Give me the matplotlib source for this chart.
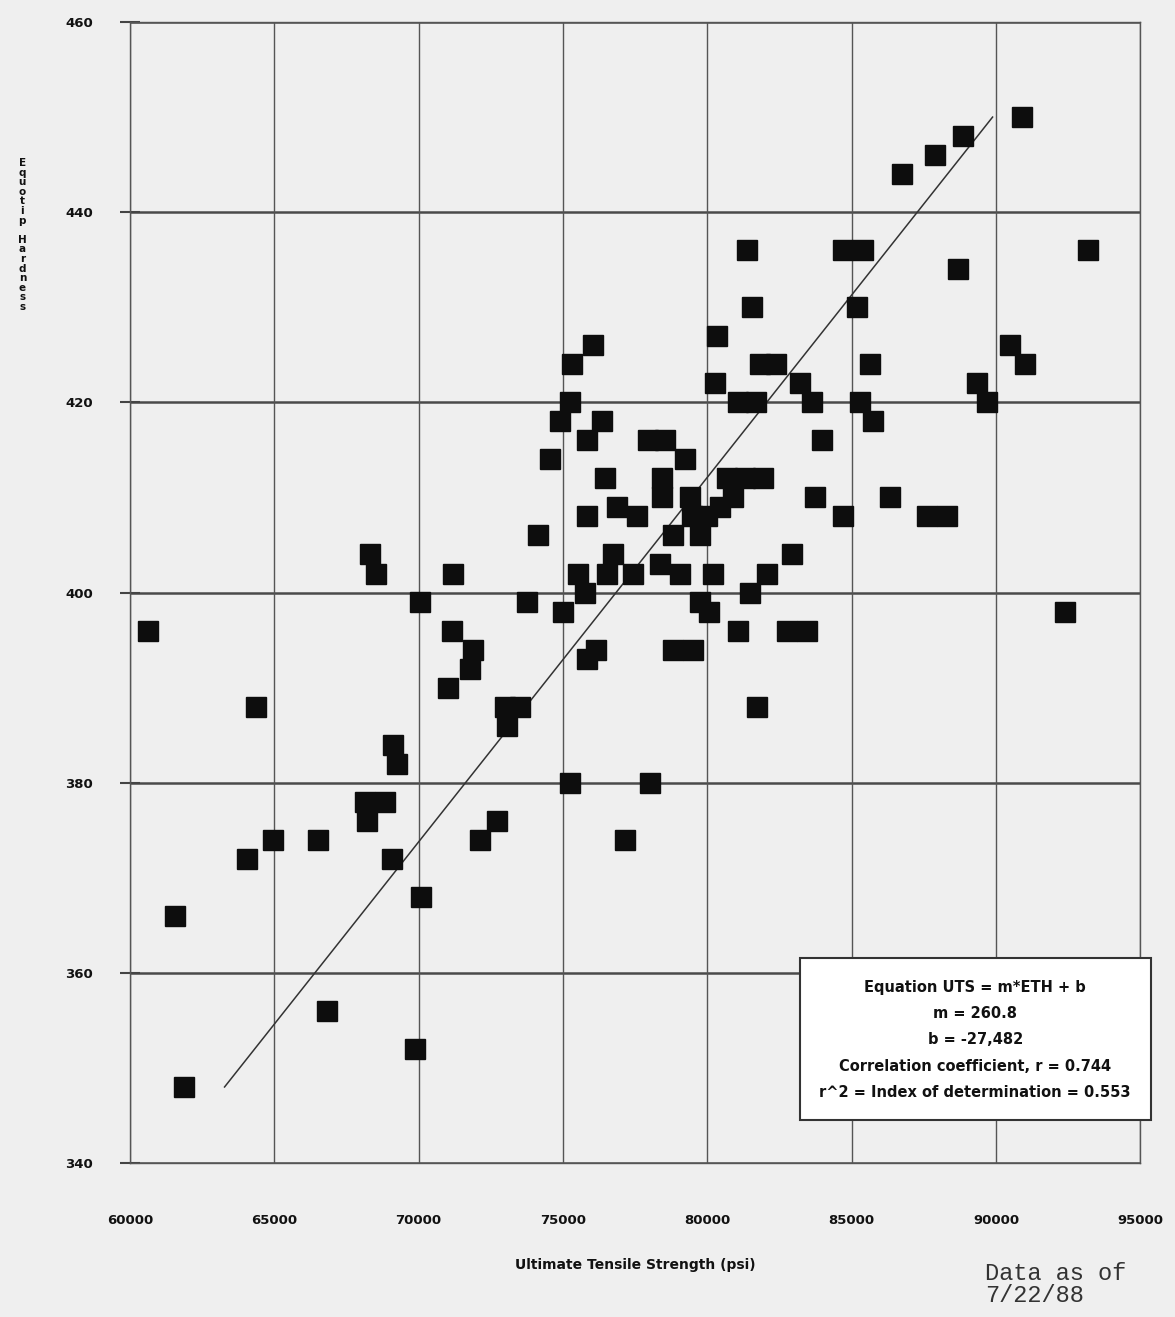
import numpy as np
import matplotlib.pyplot as plt
from matplotlib.patches import Rectangle

# ---- data ----
# Ultimate tensile strength (psi)
uts = [60620, 61560, 61870, 64050, 64370, 64960, 66510, 66830, 68140, 68840,
       68210, 69080, 69110, 69250, 70080, 69880, 68320, 68520, 70050, 71190,
       71160, 71890, 71780, 71020, 72130, 72720, 72990, 73510, 73060, 74140,
       73760, 75000, 75250, 75520, 75770, 75840, 76150, 75840, 74550, 74900,
       75250, 75320, 76040, 76350, 75840, 76460, 76530, 76740, 76870, 77570,
       77430, 77150, 78020, 77950, 78540, 79230, 78430, 78430, 78360, 79060,
       78820, 79510, 79400, 79470, 78820, 79750, 79990, 80440, 80200, 79750,
       80060, 80270, 80340, 80690, 81310, 81930, 80890, 81070, 81480, 81730,
       82070, 82940, 82770, 83460, 81070, 81690, 81830, 82380, 81550, 81380,
       83220, 83630, 83980, 83740, 84700, 84700, 85400, 85190, 85640, 85300,
       85750, 86330, 87620, 88310, 86750, 87890, 88860, 90910, 88690, 89350,
       89700, 90490, 91010, 93190, 92400]
# Equotip hardness
hardness = [396, 366, 348, 372, 388, 374, 374, 356, 378, 378,
            376, 372, 384, 382, 368, 352, 404, 402, 399, 402,
            396, 394, 392, 390, 374, 376, 388, 388, 386, 406,
            399, 398, 380, 402, 400, 393, 394, 408, 414, 418,
            420, 424, 426, 418, 416, 412, 402, 404, 409, 408,
            402, 374, 380, 416, 416, 414, 412, 410, 403, 402,
            394, 394, 410, 408, 406, 406, 408, 409, 402, 399,
            398, 422, 427, 412, 412, 412, 410, 396, 400, 388,
            402, 404, 396, 396, 420, 420, 424, 424, 430, 436,
            422, 420, 416, 410, 408, 436, 436, 430, 424, 420,
            418, 410, 408, 408, 444, 446, 448, 450, 434, 422,
            420, 426, 424, 436, 398]

# regression  UTS = m*ETH + b
slope = 260.8
intercept = -27482
r_coef = 0.744
r_sq = 0.553

x_ticks = [60000, 65000, 70000, 75000, 80000, 85000, 90000, 95000]
y_ticks = [340, 360, 380, 400, 420, 440, 460]

BG = '#efefef'
INK = '#111111'

fig = plt.figure(figsize=(11.75, 13.17), dpi=100, facecolor=BG)
ax = fig.add_axes([0.1106, 0.1169, 0.860, 0.8664], facecolor=BG)

ax.set_xlim(60000, 95000)
ax.set_ylim(340, 460)
ax.set_xticks(x_ticks)
ax.set_yticks(y_ticks)
ax.set_xticklabels([str(v) for v in x_ticks], fontsize=9.5, fontweight='bold', color=INK)
ax.set_yticklabels([str(v) for v in y_ticks], fontsize=9.5, fontweight='bold', color=INK)

# grid: heavy horizontals, light verticals
for yv in y_ticks:
    ax.axhline(yv, color='#4a4a4a', lw=1.8, zorder=1)
for xv in x_ticks:
    ax.axvline(xv, color='#555555', lw=1.0, zorder=1)
for side in ['top', 'right', 'bottom', 'left']:
    ax.spines[side].set_color('#555555')
    ax.spines[side].set_linewidth(1.0)

ax.tick_params(axis='y', direction='inout', length=15, width=1.5, color='#444444', pad=19)
ax.tick_params(axis='x', length=0, pad=37)

# regression line over the hardness range of the data
h_fit = np.array([min(hardness), max(hardness)])
ax.plot(slope * h_fit + intercept, h_fit, color='#333333', lw=1.1, zorder=2)

# data squares
ax.plot(uts, hardness, linestyle='none', marker='s', markersize=14,
        markerfacecolor='#0d0d0d', markeredgecolor='#0d0d0d', zorder=3)

ax.set_xlabel('Ultimate Tensile Strength (psi)', fontsize=10, fontweight='bold',
              color=INK, labelpad=22)

# stacked vertical y label
fig.text(0.019, 1 - 235 / 1317, '\n'.join('Equotip Hardness'), ha='center', va='center',
         fontsize=7.5, fontweight='bold', color=INK, linespacing=0.95)

# equation box
box = Rectangle((0.663, 0.0377), 0.347, 0.142, transform=ax.transAxes,
                facecolor='white', edgecolor='#333333', lw=1.5, clip_on=False, zorder=5)
ax.add_patch(box)
eq_lines = ['Equation UTS = m*ETH + b',
            f'm = {slope}',
            f'b = {intercept:,}',
            f'Correlation coefficient, r = {r_coef}',
            f'r^2 = Index of determination = {r_sq}']
ax.text(0.8365, 0.108, '\n'.join(eq_lines), transform=ax.transAxes, ha='center',
        va='center', fontsize=10.5, fontweight='bold', color=INK, linespacing=1.95, zorder=6)

fig.text(985 / 1175, 1 - 1262 / 1317, 'Data as of\n7/22/88', ha='left', va='top',
         family='Liberation Mono', fontsize=17, color='#333333', linespacing=0.95)

fig.savefig('out.png', dpi=100, facecolor=BG)
